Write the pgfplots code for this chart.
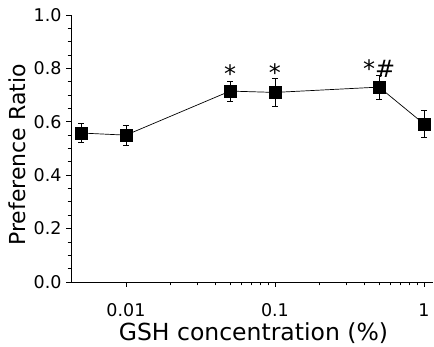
\documentclass[border=0pt]{standalone}
\usepackage{fontspec}
\setmainfont{DejaVu Sans}
\usepackage{pgfplots}
\pgfplotsset{compat=1.18}
\begin{document}
\begin{tikzpicture}
\useasboundingbox (-71pt,-65pt) rectangle (363pt,282pt);
\begin{axis}[
  at={(0pt,0pt)}, anchor=south west,
  scale only axis,
  width=362pt, height=267pt,
  xmode=log,
  xmin=0.00428, xmax=1.15,
  ymin=0, ymax=1.0,
  axis x line*=bottom, axis y line*=left,
  axis line style={line width=0.9pt},
  xtick={0.01,0.1,1},
  xticklabels={0.01,0.1,1},
  ytick={0,0.2,0.4,0.6,0.8,1.0},
  yticklabels={0.0,0.2,0.4,0.6,0.8,1.0},
  minor y tick num=3,
  tick align=outside,
  major tick length=5pt, minor tick length=3.5pt,
  tick style={line width=0.8pt, black},
  every tick label/.append style={font=\fontsize{17.5}{20}\selectfont},
  xticklabel style={anchor=base, yshift=-30pt},
  xticklabel shift=0pt,
  yticklabel style={anchor=east, xshift=-1pt},
  /pgf/number format/assume math mode=true,
  xlabel={GSH concentration (\%)},
  ylabel={Preference Ratio},
  every axis x label/.style={at={(axis description cs:0.504,0)}, anchor=base, yshift=-59pt, font=\fontsize{23.5}{26}\selectfont},
  every axis y label/.style={at={(axis description cs:0,0.476)}, xshift=-53.5pt, rotate=90, anchor=center, font=\fontsize{22}{24}\selectfont},
  clip=false,
]
\addplot[black, line width=0.7pt, mark=square*, mark size=6pt,
  error bars/.cd, y dir=both, y explicit,
  error bar style={line width=0.8pt},
  error mark options={rotate=90, mark size=3pt, line width=0.8pt}]
  table[x=x, y=y, y error=e] {
  x y e
  0.005 0.558 0.035
  0.01 0.550 0.038
  0.05 0.715 0.037
  0.1 0.710 0.053
  0.5 0.730 0.045
  1 0.592 0.050
  };
\node[font=\fontsize{24}{24}\selectfont, inner sep=0pt] at (axis cs:0.05,0.78) {*};
\node[font=\fontsize{24}{24}\selectfont, inner sep=0pt] at (axis cs:0.1,0.785) {*};
\node[font=\fontsize{24}{24}\selectfont, inner sep=0pt] at (axis cs:0.5,0.80) {*\#};
\end{axis}
\end{tikzpicture}
\end{document}
